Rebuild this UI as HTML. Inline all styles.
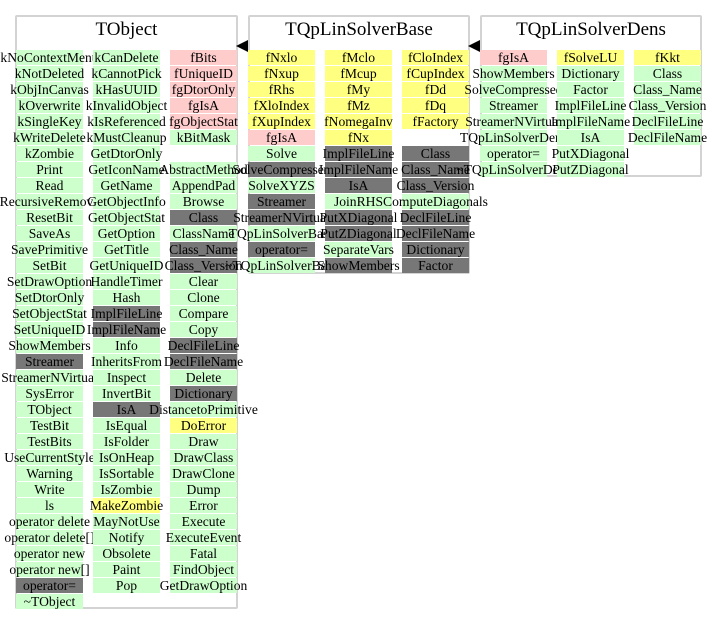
<!DOCTYPE html>
<html><head><meta charset="utf-8"><style>
body{margin:0;width:717px;height:624px;background:#fff;position:relative;overflow:hidden;font-family:"Liberation Serif",serif;}
.box{position:absolute;border:2px solid #d3d3d3;border-radius:2px;box-sizing:border-box;}
.t{position:absolute;font-size:19px;text-align:center;white-space:nowrap;}
.col{position:absolute;width:67px;}
.col div{height:15px;margin-bottom:1px;font-size:13.6px;line-height:15px;text-align:center;white-space:nowrap;display:flex;justify-content:center;overflow:visible;}
.g{background:#ccffcc}.p{background:#ffcccc}.y{background:#ffff80}.d{background:#777777}.e{background:transparent}
.arr{position:absolute;width:0;height:0;border-top:6px solid transparent;border-bottom:6px solid transparent;border-right:12px solid #000;}
</style></head><body>
<div class="box" style="left:15px;top:15px;width:223px;height:594px"></div>
<div class="t" style="left:15px;top:19px;width:223px">TObject</div>
<div class="box" style="left:248px;top:15px;width:222px;height:259px"></div>
<div class="t" style="left:248px;top:19px;width:222px">TQpLinSolverBase</div>
<div class="box" style="left:480px;top:15px;width:222px;height:162px"></div>
<div class="t" style="left:480px;top:19px;width:222px">TQpLinSolverDens</div>
<div class="arr" style="left:236px;top:40px"></div>
<div class="arr" style="left:468px;top:40px"></div>

<div class="col" style="left:16px;top:50px">
<div class="g">kNoContextMenu</div><div class="g">kNotDeleted</div><div class="g">kObjInCanvas</div><div class="g">kOverwrite</div><div class="g">kSingleKey</div><div class="g">kWriteDelete</div><div class="g">kZombie</div><div class="g">Print</div><div class="g">Read</div><div class="g">RecursiveRemove</div><div class="g">ResetBit</div><div class="g">SaveAs</div><div class="g">SavePrimitive</div><div class="g">SetBit</div><div class="g">SetDrawOption</div><div class="g">SetDtorOnly</div><div class="g">SetObjectStat</div><div class="g">SetUniqueID</div><div class="g">ShowMembers</div><div class="d">Streamer</div><div class="g">StreamerNVirtual</div><div class="g">SysError</div><div class="g">TObject</div><div class="g">TestBit</div><div class="g">TestBits</div><div class="g">UseCurrentStyle</div><div class="g">Warning</div><div class="g">Write</div><div class="g">ls</div><div class="g">operator delete</div><div class="g">operator delete[]</div><div class="g">operator new</div><div class="g">operator new[]</div><div class="d">operator=</div><div class="g">~TObject</div>
</div>
<div class="col" style="left:93px;top:50px">
<div class="g">kCanDelete</div><div class="g">kCannotPick</div><div class="g">kHasUUID</div><div class="g">kInvalidObject</div><div class="g">kIsReferenced</div><div class="g">kMustCleanup</div><div class="g">GetDtorOnly</div><div class="g">GetIconName</div><div class="g">GetName</div><div class="g">GetObjectInfo</div><div class="g">GetObjectStat</div><div class="g">GetOption</div><div class="g">GetTitle</div><div class="g">GetUniqueID</div><div class="g">HandleTimer</div><div class="g">Hash</div><div class="d">ImplFileLine</div><div class="d">ImplFileName</div><div class="g">Info</div><div class="g">InheritsFrom</div><div class="g">Inspect</div><div class="g">InvertBit</div><div class="d">IsA</div><div class="g">IsEqual</div><div class="g">IsFolder</div><div class="g">IsOnHeap</div><div class="g">IsSortable</div><div class="g">IsZombie</div><div class="y">MakeZombie</div><div class="g">MayNotUse</div><div class="g">Notify</div><div class="g">Obsolete</div><div class="g">Paint</div><div class="g">Pop</div>
</div>
<div class="col" style="left:170px;top:50px">
<div class="p">fBits</div><div class="p">fUniqueID</div><div class="p">fgDtorOnly</div><div class="p">fgIsA</div><div class="p">fgObjectStat</div><div class="g">kBitMask</div><div class="e"></div><div class="g">AbstractMethod</div><div class="g">AppendPad</div><div class="g">Browse</div><div class="d">Class</div><div class="g">ClassName</div><div class="d">Class_Name</div><div class="d">Class_Version</div><div class="g">Clear</div><div class="g">Clone</div><div class="g">Compare</div><div class="g">Copy</div><div class="d">DeclFileLine</div><div class="d">DeclFileName</div><div class="g">Delete</div><div class="d">Dictionary</div><div class="g">DistancetoPrimitive</div><div class="y">DoError</div><div class="g">Draw</div><div class="g">DrawClass</div><div class="g">DrawClone</div><div class="g">Dump</div><div class="g">Error</div><div class="g">Execute</div><div class="g">ExecuteEvent</div><div class="g">Fatal</div><div class="g">FindObject</div><div class="g">GetDrawOption</div>
</div>

<div class="col" style="left:248px;top:50px">
<div class="y">fNxlo</div><div class="y">fNxup</div><div class="y">fRhs</div><div class="y">fXloIndex</div><div class="y">fXupIndex</div><div class="p">fgIsA</div><div class="g">Solve</div><div class="d">SolveCompressed</div><div class="g">SolveXYZS</div><div class="d">Streamer</div><div class="d">StreamerNVirtual</div><div class="g">TQpLinSolverBase</div><div class="d">operator=</div><div class="g">~TQpLinSolverBase</div>
</div>
<div class="col" style="left:325px;top:50px">
<div class="y">fMclo</div><div class="y">fMcup</div><div class="y">fMy</div><div class="y">fMz</div><div class="y">fNomegaInv</div><div class="y">fNx</div><div class="d">ImplFileLine</div><div class="d">ImplFileName</div><div class="d">IsA</div><div class="g">JoinRHS</div><div class="d">PutXDiagonal</div><div class="d">PutZDiagonal</div><div class="g">SeparateVars</div><div class="d">ShowMembers</div>
</div>
<div class="col" style="left:402px;top:50px">
<div class="y">fCloIndex</div><div class="y">fCupIndex</div><div class="y">fDd</div><div class="y">fDq</div><div class="y">fFactory</div><div class="e"></div><div class="d">Class</div><div class="d">Class_Name</div><div class="d">Class_Version</div><div class="g">ComputeDiagonals</div><div class="d">DeclFileLine</div><div class="d">DeclFileName</div><div class="d">Dictionary</div><div class="d">Factor</div>
</div>

<div class="col" style="left:480px;top:50px">
<div class="p">fgIsA</div><div class="g">ShowMembers</div><div class="g">SolveCompressed</div><div class="g">Streamer</div><div class="g">StreamerNVirtual</div><div class="g">TQpLinSolverDens</div><div class="g">operator=</div><div class="g">~TQpLinSolverDens</div>
</div>
<div class="col" style="left:557px;top:50px">
<div class="y">fSolveLU</div><div class="g">Dictionary</div><div class="g">Factor</div><div class="g">ImplFileLine</div><div class="g">ImplFileName</div><div class="g">IsA</div><div class="g">PutXDiagonal</div><div class="g">PutZDiagonal</div>
</div>
<div class="col" style="left:634px;top:50px">
<div class="y">fKkt</div><div class="g">Class</div><div class="g">Class_Name</div><div class="g">Class_Version</div><div class="g">DeclFileLine</div><div class="g">DeclFileName</div>
</div>
</body></html>
